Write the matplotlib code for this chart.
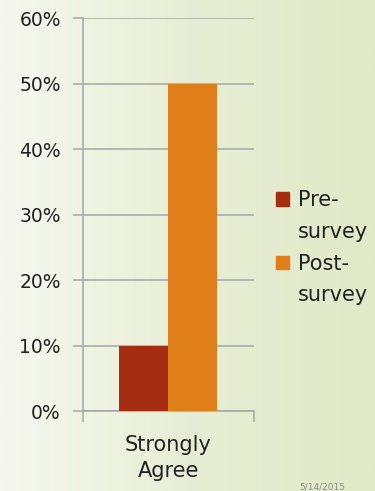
import numpy as np
import matplotlib
matplotlib.use('Agg')
import matplotlib.pyplot as plt
from matplotlib.colors import LinearSegmentedColormap
from matplotlib.patches import Patch

# Data
categories = ['Strongly\nAgree']
series = ['Pre-', 'Post-']
values = [10, 50]  # percent
colors = ['#A52D11', '#E07E19']
date_text = '5/14/2015'

plt.rcParams['font.family'] = ['DejaVu Sans']

fig = plt.figure(figsize=(3.75, 4.91), dpi=100)

# background gradient (light left -> pale green right)
bg = fig.add_axes([0, 0, 1, 1], zorder=-10)
grad = np.linspace(0, 1, 256).reshape(1, -1)
cmap = LinearSegmentedColormap.from_list('bg', ['#F6F8EF', '#E8EED5', '#E1E9C7'])
bg.imshow(grad, aspect='auto', cmap=cmap, extent=[0, 1, 0, 1])
bg.axis('off')

ax = fig.add_axes([0.2213, 0.1629, 0.456, 0.8004])
ax.set_facecolor('none')

w = 0.2865
x = np.arange(len(categories))
for i, (name, v, c) in enumerate(zip(series, values, colors)):
    ax.bar(x + (i - 0.5) * w, [v], width=w, color=c, label=name, zorder=3)

ax.set_xlim(-0.5, 0.5)
ax.set_ylim(0, 60)
ax.set_yticks(range(0, 61, 10))
ax.set_yticklabels([f'{t}%' for t in range(0, 61, 10)], fontsize=13.5, color='#222222')
ax.yaxis.grid(True, color='#A6A6A6', linewidth=1.1, zorder=0)
ax.tick_params(axis='y', length=7, width=1.1, color='#A6A6A6', pad=9)

ax.set_xticks(x)
ax.set_xticklabels(categories, fontsize=15, color='#222222', linespacing=1.4)
ax.tick_params(axis='x', which='major', length=0, pad=17)
ax.set_xticks([-0.5, 0.5], minor=True)
ax.tick_params(axis='x', which='minor', length=8, width=1.1, color='#A6A6A6')

for s in ['top', 'right']:
    ax.spines[s].set_visible(False)
for s in ['left', 'bottom']:
    ax.spines[s].set_color('#A6A6A6')
    ax.spines[s].set_linewidth(1.1)

# legend: colour box sits next to the first line of each two-line label
handles, labels = [], []
for name, c in zip(series, colors):
    handles += [Patch(color=c), Patch(color='none')]
    labels += [name, 'survey']
leg = ax.legend(handles, labels, loc='center left', bbox_to_anchor=(1.07, 0.415),
                frameon=False, fontsize=15, handlelength=0.62, handleheight=0.62,
                handletextpad=0.4, labelspacing=0.56, borderpad=0)
for t in leg.get_texts():
    t.set_color('#222222')

fig.text(0.86, 0.0, date_text, fontsize=6.5, color='#8A8A8A', ha='center', va='bottom')

fig.savefig('out.png', dpi=100)
